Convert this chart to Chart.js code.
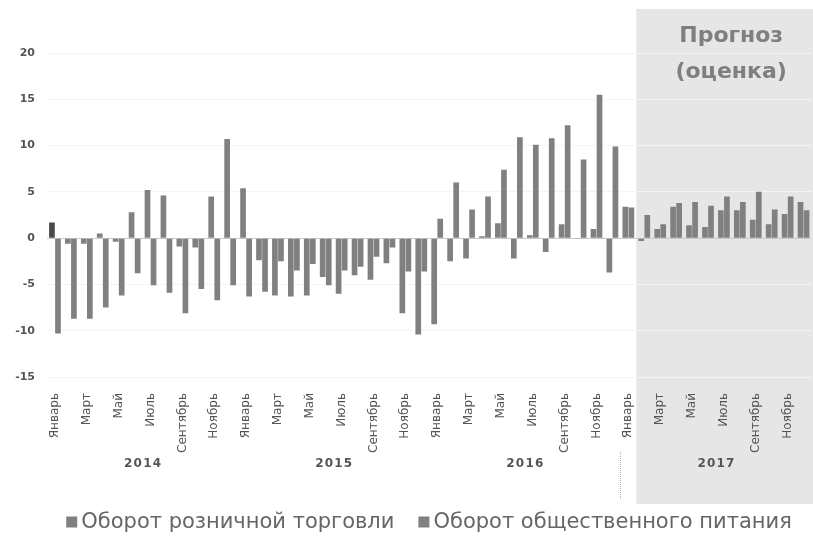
<!DOCTYPE html>
<html lang="ru">
<head>
<meta charset="utf-8">
<script src="https://cdn.jsdelivr.net/npm/chart.js@4"></script>
<style>
  html, body { margin: 0; padding: 0; background: #fff; overflow: hidden; }
  #wrap { width: 826px; height: 536px; }
</style>
</head>
<body>
<div id="wrap"><canvas id="chart" width="826" height="536"></canvas></div>
<script>
'use strict';
// ── Данные ──────────────────────────────────────────────────────────────────
const YEARS  = ['2014', '2015', '2016', '2017'];
const MONTHS = ['Январь', 'Февраль', 'Март', 'Апрель', 'Май', 'Июнь',
                'Июль', 'Август', 'Сентябрь', 'Октябрь', 'Ноябрь', 'Декабрь'];
const SERIES_NAMES = ['Оборот розничной торговли', 'Оборот общественного питания'];

// темпы, % (левый столбец месяца)
const RETAIL = [
   1.7, -0.6, -0.6,  0.5, -0.4,  2.8,  5.2,  4.6, -0.9, -1.0,  4.5, 10.7,   // 2014
   5.4, -2.4, -6.2, -6.3, -6.2, -4.2, -6.0, -4.0, -4.5, -2.7, -8.1, -10.4,  // 2015
  -9.3, -2.5, -2.2,  0.2,  1.6, -2.2,  0.3, -1.5,  1.5, -0.1,  1.0, -3.7,   // 2016
   3.4, -0.3,  1.0,  3.4,  1.4,  1.2,  3.0,  3.0,  2.0,  1.5,  2.6,  3.9,   // 2017
];
// правый столбец месяца
const CATERING = [
  -10.3, -8.7, -8.7, -7.5, -6.2, -3.8, -5.1, -5.9, -8.1, -5.5, -6.7, -5.1,  // 2014
   -6.3, -5.8, -2.5, -3.5, -2.8, -5.1, -3.5, -3.1, -2.0, -1.0, -3.6, -3.6,  // 2015
    2.1,  6.0,  3.1,  4.5,  7.4, 10.9, 10.1, 10.8, 12.2,  8.5, 15.5,  9.9,  // 2016
    3.3,  2.5,  1.5,  3.8,  3.9,  3.5,  4.5,  3.9,  5.0,  3.1,  4.5,  3.0,  // 2017
];
const Y_MIN = -15, Y_MAX = 20, Y_STEP = 5;
const FORECAST_FROM = 36;               // январь 2017 — начало прогноза
const FORECAST_TITLE = ['Прогноз', '(оценка)'];

const LABELS = YEARS.flatMap(y => MONTHS.map(m => m + ' ' + y));
const FONT = "'DejaVu Sans', 'Liberation Sans', sans-serif";
const GREY = '#808080';

// ── Оформление: прогнозная зона, годы, разделитель, легенда ────────────────
const decor = {
  id: 'decor',
  beforeDraw(chart) {
    const { ctx, scales: { x } } = chart;
    const x0 = (x.getPixelForValue(FORECAST_FROM) + x.getPixelForValue(FORECAST_FROM + 1)) / 2;
    ctx.save();
    ctx.fillStyle = '#e6e6e6';
    ctx.fillRect(x0, 9, chart.width - x0, 495);
    ctx.restore();
  },
  afterDraw(chart) {
    const { ctx, scales: { x } } = chart;
    ctx.save();
    // подписи годов
    ctx.font = 'bold 12px ' + FONT;
    ctx.fillStyle = '#555';
    ctx.textAlign = 'center';
    ctx.textBaseline = 'middle';
    YEARS.forEach((y, i) => {
      const cx = (x.getPixelForValue(i * 12) + x.getPixelForValue(i * 12 + 11)) / 2;
      ctx.fillText(y.split('').join(String.fromCharCode(8202)), cx, 464);
    });
    // пунктир между 2016 и 2017
    const sx = Math.round((x.getPixelForValue(35) + x.getPixelForValue(36)) / 2) + 0.5;
    ctx.strokeStyle = '#b0b0b0';
    ctx.setLineDash([1, 1]);
    ctx.beginPath();
    ctx.moveTo(sx, 452);
    ctx.lineTo(sx, 500);
    ctx.stroke();
    ctx.setLineDash([]);
    // заголовок прогноза
    const x0 = (x.getPixelForValue(FORECAST_FROM) + x.getPixelForValue(FORECAST_FROM + 1)) / 2;
    const tx = (x0 + chart.width) / 2;
    ctx.font = 'bold 22px ' + FONT;
    ctx.fillStyle = '#7f7f7f';
    ctx.fillText(FORECAST_TITLE[0], tx, 36);
    ctx.fillText(FORECAST_TITLE[1], tx, 72);
    // легенда
    ctx.font = '21px ' + FONT;
    ctx.textAlign = 'left';
    const items = chart.data.datasets.map(d => d.label);
    const box = 11, gapBox = 4, gapItem = 24;
    const widths = items.map(t => box + gapBox + ctx.measureText(t).width);
    const total = widths.reduce((a, b) => a + b, 0) + gapItem * (items.length - 1);
    let lx = 429 - total / 2;
    const ly = 522;
    items.forEach((t, i) => {
      ctx.fillStyle = GREY;
      ctx.fillRect(lx, ly - box / 2, box, box);
      ctx.fillStyle = '#666';
      ctx.fillText(t, lx + box + gapBox, ly + 1);
      lx += widths[i] + gapItem;
    });
    ctx.restore();
  },
};

new Chart(document.getElementById('chart'), {
  type: 'bar',
  data: {
    labels: LABELS,
    datasets: [
      { label: SERIES_NAMES[0], data: RETAIL,
        backgroundColor: RETAIL.map((_, i) => i === 0 ? '#4a4a4a' : GREY),
        borderWidth: 0, categoryPercentage: 0.76, barPercentage: 0.94 },
      { label: SERIES_NAMES[1], data: CATERING, backgroundColor: GREY,
        borderWidth: 0, categoryPercentage: 0.76, barPercentage: 0.94 },
    ],
  },
  options: {
    responsive: false,
    animation: false,
    layout: { padding: { top: 53, right: 6, bottom: 0, left: 0 } },
    plugins: {
      tooltip: { enabled: false },
      legend: { display: false },
    },
    scales: {
      x: {
        afterFit: s => { s.height = 159; },
        grid: { display: false },
        border: { display: false },
        ticks: {
          autoSkip: false, maxRotation: 90, minRotation: 90, padding: 8,
          color: '#555', font: { family: FONT, size: 12 },
          callback: (v, i) => i % 2 === 0 ? MONTHS[i % 12] : '',
        },
      },
      y: {
        min: Y_MIN, max: Y_MAX,
        afterFit: s => { s.width = 47; },
        border: { display: false },
        grid: {
          drawTicks: false,
          color: c => c.tick.value === 0 ? '#c8c8c8' : '#f4f4f4',
        },
        ticks: {
          stepSize: Y_STEP, padding: 12,
          color: '#555', font: { family: FONT, size: 11, weight: 'bold' },
        },
      },
    },
  },
  plugins: [decor],
});
</script>
</body>
</html>
